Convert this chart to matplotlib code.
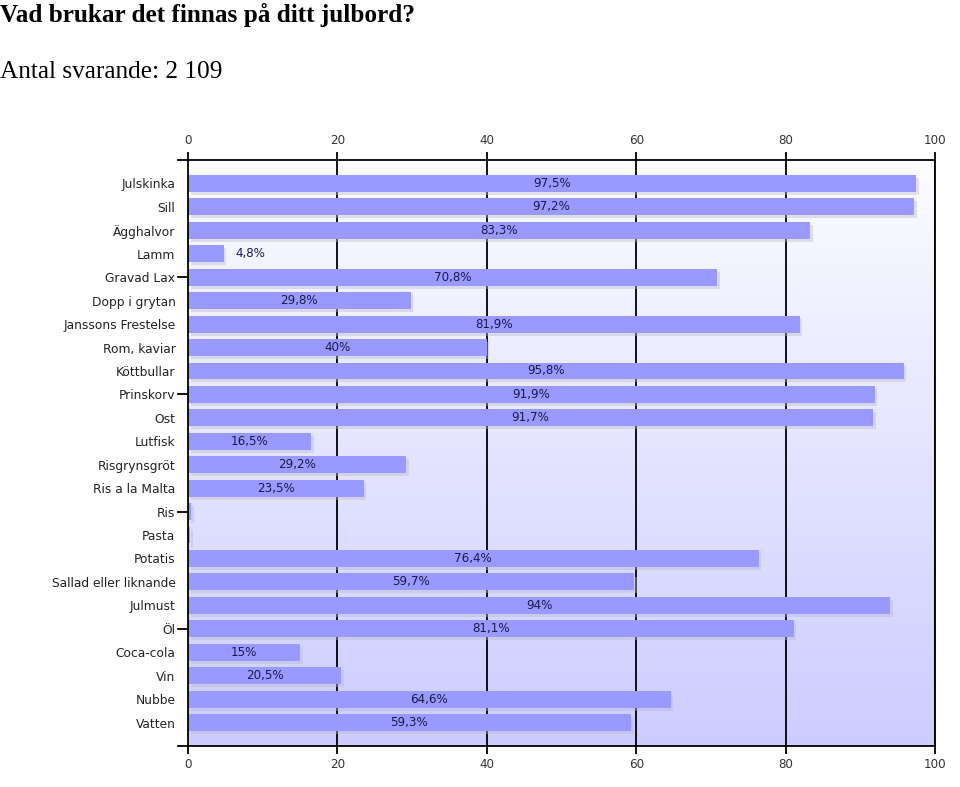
import matplotlib.pyplot as plt
import numpy as np

categories = ['Julskinka', 'Sill', 'Ägghalvor', 'Lamm', 'Gravad Lax', 'Dopp i grytan',
              'Janssons Frestelse', 'Rom, kaviar', 'Köttbullar', 'Prinskorv', 'Ost',
              'Lutfisk', 'Risgrynsgröt', 'Ris a la Malta', 'Ris', 'Pasta', 'Potatis',
              'Sallad eller liknande', 'Julmust', 'Öl', 'Coca-cola', 'Vin', 'Nubbe', 'Vatten']
percent = [97.5, 97.2, 83.3, 4.8, 70.8, 29.8, 81.9, 40, 95.8, 91.9, 91.7, 16.5,
           29.2, 23.5, 0.4, 0.3, 76.4, 59.7, 94, 81.1, 15, 20.5, 64.6, 59.3]
xticks = [0, 20, 40, 60, 80, 100]

fig = plt.figure(figsize=(9.6, 7.87), dpi=100)
fig.text(0.0, 0.972, 'Vad brukar det finnas på ditt julbord?', family='Liberation Serif',
         weight='bold', size=18.2, va='baseline', ha='left')
fig.text(0.0, 0.901, 'Antal svarande: 2 109', family='Liberation Serif',
         size=18.2, va='baseline', ha='left')

ax = fig.add_axes([0.1958, 0.0521, 0.9740 - 0.1958, 0.7967 - 0.0521])
ax.set_xlim(0, 100)
ax.set_ylim(24, -1)

# background gradient, white at top to lavender at bottom
grad = np.linspace(0, 1, 256).reshape(-1, 1)
top = np.array([0.99, 0.99, 1.0])
bot = np.array([0.80, 0.80, 1.0])
img = top + (bot - top) * grad[..., None]
ax.imshow(img, extent=[0, 100, 24, -1], aspect='auto', zorder=0)

for x in xticks[1:]:
    ax.axvline(x, color='black', lw=1.3, zorder=1)

y = np.arange(len(categories))
ax.barh(y + 0.13, percent, left=0.35, height=0.72, color='#b8b8cc', alpha=0.4,
        zorder=2, linewidth=0)
ax.barh(y, percent, height=0.72, color='#9999ff', zorder=3, linewidth=0)

for i, v in enumerate(percent):
    if v < 1:
        continue
    txt = ('%g' % v).replace('.', ',') + '%'
    if v < 10:
        ax.text(v + 1.5, i, txt, ha='left', va='center', size=8.6, color='#1a1a4d', zorder=4)
    else:
        ax.text(v / 2, i, txt, ha='center', va='center', size=8.6, color='#1a1a4d', zorder=4)

for s in ax.spines.values():
    s.set_color('black')
    s.set_linewidth(1.3)
    s.set_zorder(5)

ax.set_xticks(xticks)
ax.tick_params(axis='x', top=True, labeltop=True, bottom=True, labelbottom=True,
               direction='out', length=6, width=1.3, labelsize=8.6, colors='black',
               labelcolor='#333333', pad=3)
ax.set_yticks(y)
ax.set_yticklabels(categories)
ax.tick_params(axis='y', length=0, labelsize=8.8, labelcolor='#222222', pad=9)
for i in [4, 9, 14, 19]:
    ax.plot([-1.4, 0], [i, i], color='black', lw=1.3, clip_on=False, zorder=5)

# horizontal axis lines stretch a bit left of zero
for yy in [-1, 24]:
    ax.plot([-1.4, 0], [yy, yy], color='black', lw=1.3, clip_on=False, zorder=5)

fig.savefig('out.png', dpi=100, facecolor='white')
